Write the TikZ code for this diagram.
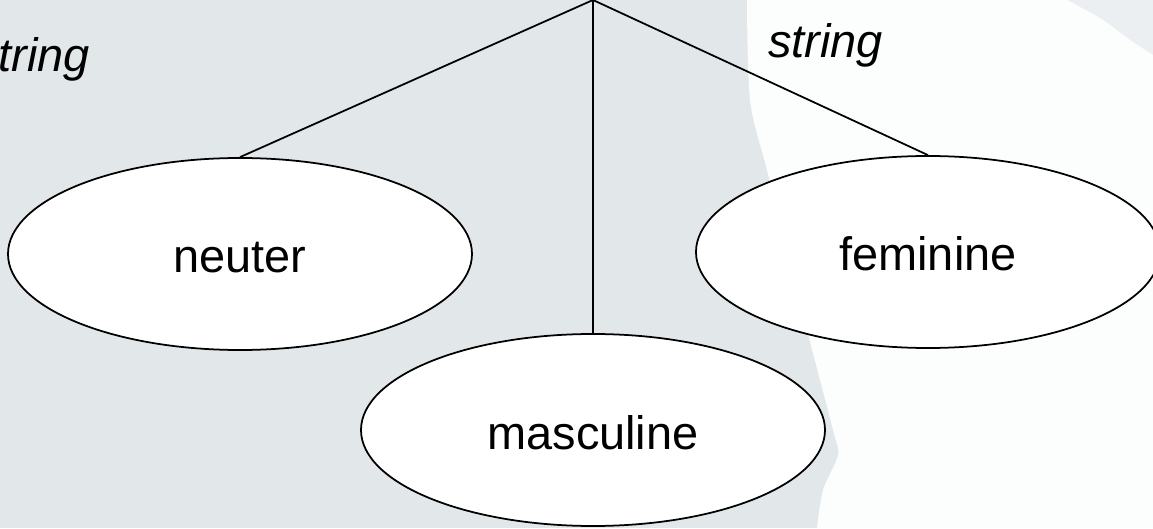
\documentclass[tikz,border=0pt]{standalone}
\usepackage{fontspec}
\setmainfont{Liberation Sans}
\usetikzlibrary{shapes.geometric}
\definecolor{bggray}{HTML}{E2E7EA}
\definecolor{bglight}{HTML}{ECEFF2}
\definecolor{bgwhite}{HTML}{FCFDFD}
\tikzset{
  gender/.style={ellipse,draw,fill=white,line width=1pt,inner sep=0pt,minimum width=9.28cm,minimum height=3.84cm,text height=0.86cm,text depth=0.1cm,font=\fontsize{26.7}{32}\selectfont},
  tag/.style={inner sep=0pt,font=\fontsize{26.7}{32}\selectfont\itshape}
}

\begin{document}
\begin{tikzpicture}
\useasboundingbox (0,0) rectangle (23.06,10.56);
\clip (0,0) rectangle (23.06,10.56);
\fill[bggray] (0,0) rectangle (23.06,10.56);
\fill[bglight] (21.0,10.56) -- (23.06,10.56) -- (23.06,9.3) -- cycle;
\fill[bgwhite] plot[smooth] coordinates {(14.94,10.56) (15.00,8.56) (15.34,7.16) (15.80,5.36) (16.14,3.96) (16.66,1.96) (16.76,1.46) (16.46,0.76) (16.34,0)}
  -- (23.06,0) -- plot[smooth] coordinates {(23.06,9.46) (22.60,9.76) (22.06,10.16) (21.34,10.56)} -- cycle;

\coordinate (T) at (11.86,10.56);
\coordinate (N) at (4.80,5.48);
\coordinate (M) at (11.86,1.96);
\coordinate (F) at (18.56,5.52);
\coordinate (L) at (1.80,9.12);
\coordinate (R) at (15.36,9.40);

\node[gender] (N1) at (N) {neuter};
\node[gender] (M1) at (M) {masculine};
\node[gender] (F1) at (F) {feminine};
\node[tag,anchor=base east] (L1) at (L) {string};
\node[tag,anchor=base west] (R1) at (R) {string};
\draw[line width=1pt] (T) -- (N1.north);
\draw[line width=1pt] (T) -- (M1.north);
\draw[line width=1pt] (T) -- (F1.north);

\end{tikzpicture}
\end{document}
